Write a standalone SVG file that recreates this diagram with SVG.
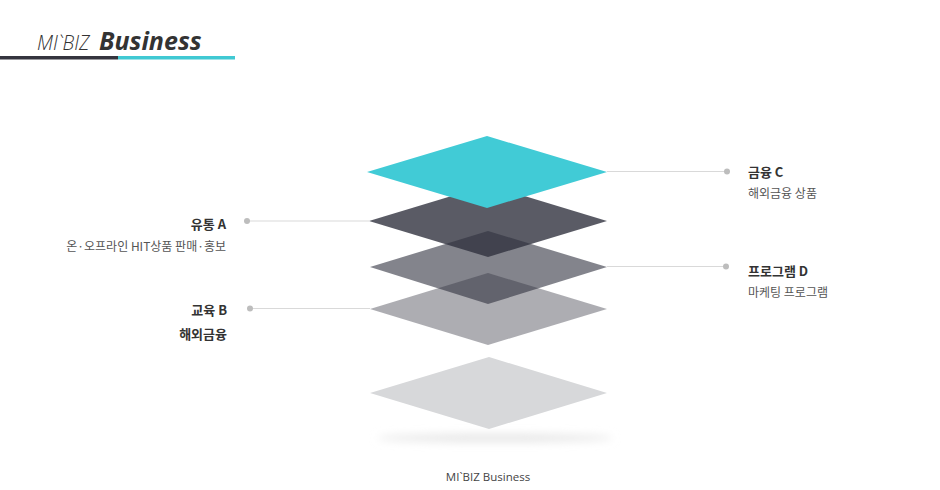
<svg xmlns="http://www.w3.org/2000/svg" width="940" height="490" viewBox="0 0 940 490">
<defs>
<style>
.t{font-family:"Open Sans","Noto Sans CJK KR",sans-serif;}
.h{font-family:"Noto Sans CJK KR","Open Sans",sans-serif;font-size:13px;font-weight:bold;fill:#333;}
.s{font-family:"Noto Sans CJK KR","Open Sans",sans-serif;font-size:12px;fill:#555;}
.ln{stroke:#D9D9D9;stroke-width:1;fill:none;}
.dot{fill:#BDBDBD;}
.lay{fill:#31323F;}
</style>
<filter id="blur" x="-20%" y="-200%" width="140%" height="500%"><feGaussianBlur stdDeviation="4"/></filter>
</defs>
<rect width="940" height="490" fill="#fff"/>
<g id="title">
<text class="t" x="37" y="50" font-size="19.5" font-style="italic" font-weight="300" fill="#333">MI`BIZ</text>
<text class="t" x="99" y="50" font-size="25" font-style="italic" font-weight="bold" fill="#333">Business</text>
<rect x="0" y="56" width="118" height="3.5" fill="#34343E"/>
<rect x="118" y="56" width="117" height="3.5" fill="#40C9D3"/>
</g>
<g id="connectors">
<line class="ln" x1="607" y1="171.5" x2="727" y2="171.5"/>
<circle class="dot" cx="727" cy="171.5" r="3"/>
<line class="ln" x1="247" y1="221" x2="369" y2="221"/>
<circle class="dot" cx="247" cy="221" r="3"/>
<line class="ln" x1="607" y1="266.5" x2="726" y2="266.5"/>
<circle class="dot" cx="726" cy="266.5" r="3"/>
<line class="ln" x1="250" y1="308.5" x2="370" y2="308.5"/>
<circle class="dot" cx="250" cy="308.5" r="3"/>
</g>
<g id="shadow">
<ellipse cx="495" cy="438" rx="118" ry="4" fill="#E6E6E6" filter="url(#blur)"/>
</g>
<g id="layer-base">
<polygon points="489,357 607,393 489,429 370,393" fill="#D7D8DA"/>
</g>
<g id="layer-dark">
<polygon class="lay" opacity="0.8" points="488,185 607,221 488,257 369,221"/>
</g>
<g id="layer-gray">
<polygon class="lay" opacity="0.6" points="488,231 607,267 488,304 370,267"/>
</g>
<g id="layer-light">
<polygon class="lay" opacity="0.4" points="488,273 607,309 488,345 370,309"/>
</g>
<g id="layer-cyan">
<polygon points="487,136 607,172 487,208 367,172" fill="#41CBD6"/>
</g>
<g id="label-c">
<text class="h" x="748" y="177">금융 C</text>
<text class="s" x="748" y="198">해외금융 상품</text>
</g>
<g id="label-d">
<text class="h" x="748" y="276">프로그램 D</text>
<text class="s" x="748" y="297">마케팅 프로그램</text>
</g>
<g id="label-a">
<text class="h" x="226" y="229" text-anchor="end">유통 A</text>
<text class="s" x="226" y="251" text-anchor="end">온·오프라인 HIT상품 판매·홍보</text>
</g>
<g id="label-b">
<text class="h" x="227" y="315" text-anchor="end">교육 B</text>
<text class="h" x="227" y="339" text-anchor="end">해외금융</text>
</g>
<g id="footer">
<text class="t" x="488" y="481" font-size="11.5" text-anchor="middle" fill="#444">MI`BIZ Business</text>
</g>
</svg>
